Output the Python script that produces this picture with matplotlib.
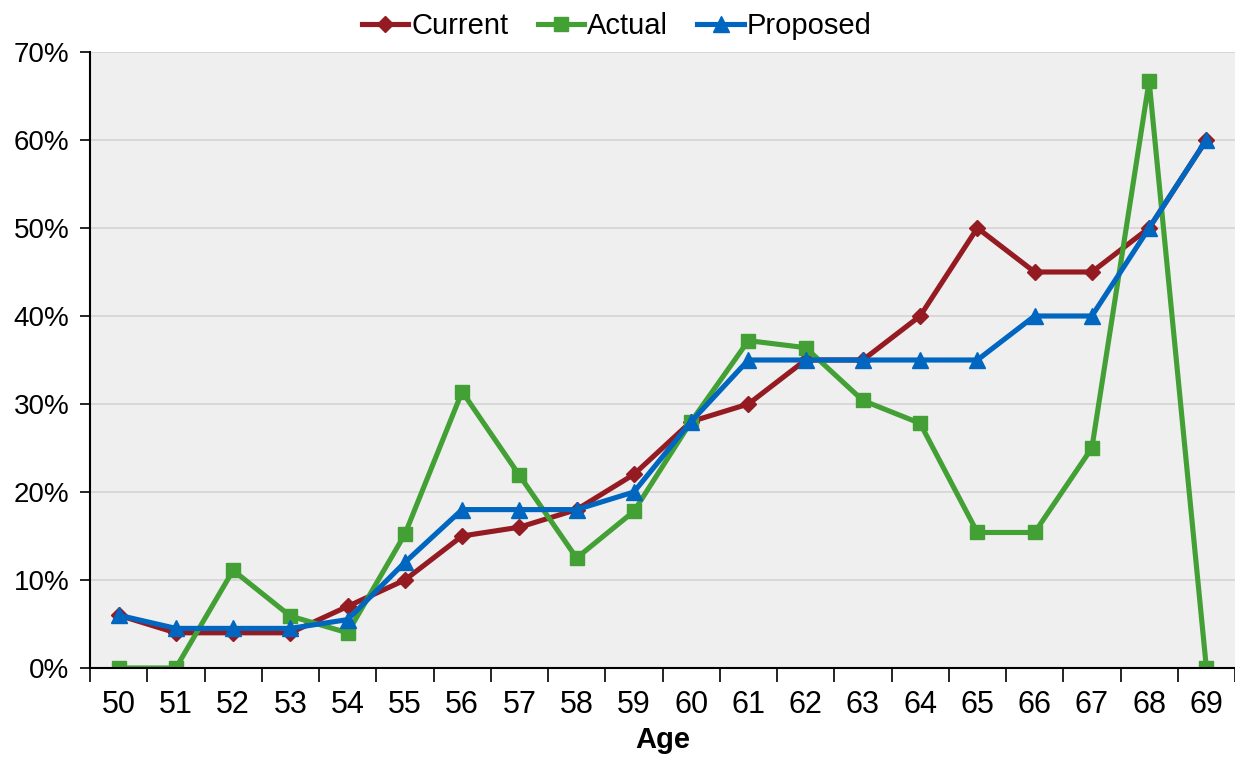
import matplotlib
matplotlib.use("Agg")
import matplotlib.pyplot as plt
import numpy as np
from matplotlib.ticker import FuncFormatter, FixedLocator

plt.rcParams['font.family'] = ['Liberation Sans', 'DejaVu Sans']

ages = [50, 51, 52, 53, 54, 55, 56, 57, 58, 59,
        60, 61, 62, 63, 64, 65, 66, 67, 68, 69]
current = [6, 4, 4, 4, 7, 10, 15, 16, 18, 22,
           28, 30, 35, 35, 40, 50, 45, 45, 50, 60]
actual = [0, 0, 11.1, 5.9, 4.0, 15.2, 31.4, 21.9, 12.5, 17.8,
          28.0, 37.2, 36.4, 30.4, 27.8, 15.4, 15.4, 25.0, 66.7, 0]
proposed = [6, 4.5, 4.5, 4.5, 5.5, 12, 18, 18, 18, 20,
            28, 35, 35, 35, 35, 35, 40, 40, 50, 60]

series = [
    ("Current", current, "#951B22", "D", 8),
    ("Actual", actual, "#43A035", "s", 10),
    ("Proposed", proposed, "#0066BF", "^", 11),
]

fig = plt.figure(figsize=(12.35, 7.63), dpi=100)
ax = fig.add_axes([90 / 1235, 1 - 668 / 763, 1 - 90 / 1235, (668 - 52) / 763])
ax.set_facecolor("#EFEFEF")

x = np.arange(len(ages))
for name, vals, col, mk, ms in series:
    ax.plot(x, vals, color=col, lw=3.7, marker=mk, markersize=ms, label=name)

ax.set_xlim(-0.5, len(ages) - 0.5)
ax.set_ylim(0, 70)
ax.set_yticks(np.arange(0, 71, 10))
ax.yaxis.set_major_formatter(FuncFormatter(lambda v, p: f"{int(v)}%"))
ax.grid(axis="y", color="#D4D4D4", lw=1.2)
ax.set_axisbelow(True)

# category ticks between labels
ax.xaxis.set_major_locator(FixedLocator(np.arange(-0.5, len(ages), 1)))
ax.xaxis.set_minor_locator(FixedLocator(x))
ax.set_xticklabels([])
ax.set_xticklabels([str(a) for a in ages], minor=True)
ax.tick_params(axis="x", which="major", length=10, width=1.2, direction="out")
ax.tick_params(axis="x", which="minor", length=0, labelsize=22, pad=16)
ax.tick_params(axis="y", length=7, width=1.2, labelsize=20, pad=8)

for s in ["top", "right"]:
    ax.spines[s].set_visible(False)
for s in ["left", "bottom"]:
    ax.spines[s].set_linewidth(1.5)

ax.set_xlabel("Age", fontsize=21, fontweight="bold", labelpad=4)

ax.legend(loc="lower center", bbox_to_anchor=(0.46, 1.0), ncol=3, frameon=False,
          fontsize=21, handlelength=1.6, handletextpad=0.1, columnspacing=1.0,
          borderaxespad=0.0)

fig.savefig("out.png", dpi=100)
